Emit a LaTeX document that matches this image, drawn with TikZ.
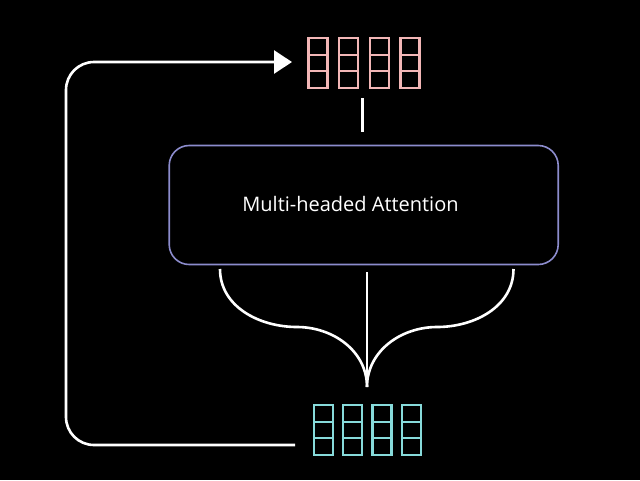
\documentclass[tikz,border=0pt]{standalone}
\usepackage{fontspec}
\setmainfont{Open Sans}
\usetikzlibrary{arrows.meta}
\definecolor{gridpink}{RGB}{242,182,182}
\definecolor{gridcyan}{RGB}{135,218,218}
\definecolor{boxline}{RGB}{140,140,205}
\tikzset{
  wire/.style={draw=white, line width=2.6pt},
  cellcol/.style={line width=2.1pt},
  attnbox/.style={draw=boxline, line width=1.6pt, rounded corners=20pt,
    minimum width=389pt, minimum height=119pt, inner sep=0pt},
  gridholder/.style={minimum width=114pt, minimum height=52pt, inner sep=0pt},
}
\begin{document}
\begin{tikzpicture}[x=1pt, y=-1pt]
  \fill[black] (0,0) rectangle (640,480);
  \useasboundingbox (0,0) rectangle (640,480);

  % token grids: four columns of three cells each
  \node[gridholder] (outgrid) at (363.5,63) {};
  \foreach \cx in {318,348.7,379.3,410} {
    \draw[gridpink, cellcol] (\cx-9.5,38) rectangle (\cx+9.5,88);
    \draw[gridpink, cellcol] (\cx-9.5,54.7) -- (\cx+9.5,54.7);
    \draw[gridpink, cellcol] (\cx-9.5,71.3) -- (\cx+9.5,71.3);
  }
  \node[gridholder] (ingrid) at (367.3,430) {};
  \foreach \cx in {323.3,352.7,382,411.3} {
    \draw[gridcyan, cellcol] (\cx-9.5,405) rectangle (\cx+9.5,455);
    \draw[gridcyan, cellcol] (\cx-9.5,421.7) -- (\cx+9.5,421.7);
    \draw[gridcyan, cellcol] (\cx-9.5,438.3) -- (\cx+9.5,438.3);
  }

  % attention block
  \node[attnbox] (attn) at (363.7,205) {};
  \node[text=white, font=\fontsize{20}{24}\selectfont] (attnlabel) at (350.5,204) {Multi-headed Attention};

  % output stub above the block
  \draw[wire, line width=3pt] ([xshift=-1.5pt, yshift=-9pt]outgrid.south) -- ([xshift=-1.7pt, yshift=12.5pt]attn.north);

  % splitting input into queries, keys and values
  \coordinate (tip) at (367,387);
  \coordinate (lstart) at (220,269);
  \coordinate (rstart) at (513.5,269);
  \coordinate (mstart) at (367,272);
  \draw[wire] (lstart) to[out=-90, in=180] (297,327) to[out=0, in=90] (tip);
  \draw[wire] (rstart) to[out=-90, in=0] (437,327) to[out=180, in=90] (tip);
  \draw[wire] (mstart) -- (tip);

  % feedback loop from input back to output
  \coordinate (fbstart) at (295,445);
  \coordinate (fbend) at (292,62);
  \draw[wire, rounded corners=28pt, -{Triangle[length=18pt, width=23pt]}]
    (fbstart) -- (66,445) -- (66,62) -- (fbend);
\end{tikzpicture}
\end{document}
